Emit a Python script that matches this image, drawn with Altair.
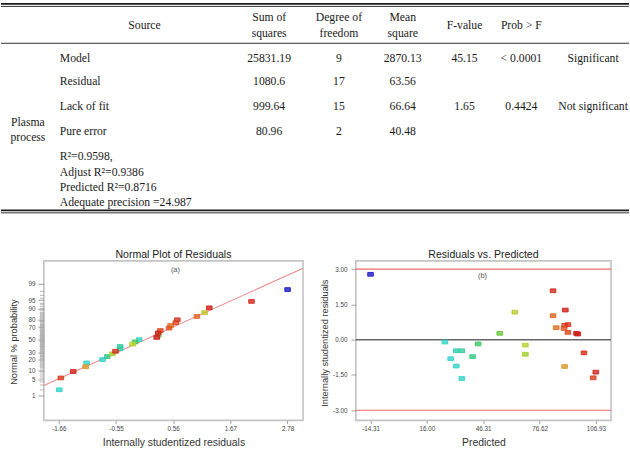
import altair as alt
import pandas as pd
from statistics import NormalDist

# ---------------- ANOVA summary of the plasma-process model ----------------
anova_sources = ["Model", "Residual", "Lack of fit", "Pure error"]
sum_of_squares = ["25831.19", "1080.6", "999.64", "80.96"]
degrees_of_freedom = ["9", "17", "15", "2"]
mean_square = ["2870.13", "63.56", "66.64", "40.48"]
f_value = ["45.15", "", "1.65", ""]
prob_f = ["< 0.0001", "", "0.4424", ""]
significance = ["Significant", "", "Not significant", ""]
fit_statistics = ["R²=0.9598,", "Adjust R²=0.9386", "Predicted R²=0.8716",
                  "Adequate precision =24.987"]
process_label = ["Plasma", "process"]
column_headers = [["Source"], ["Sum of", "squares"], ["Degree of", "freedom"],
                  ["Mean", "square"], ["F-value"], ["Prob > F"]]

# ---------------- residual diagnostics, one entry per run ----------------
predicted = [-14.31, 25.7, 31.8, 34.8, 28.8, 31.8, 34.8, 40.6, 43.6, 55.2,
             63.3, 69.0, 69.0, 83.9, 83.9, 85.6, 90.5, 90.1, 91.9, 89.8,
             91.9, 96.5, 97.2, 100.5, 90.1, 106.9, 105.5]
studentized = [2.78, -0.10, -0.47, -0.47, -0.81, -1.12, -1.65, -0.72, -0.18, 0.27,
               1.17, -0.23, -0.62, 2.08, 1.02, 0.51, 1.26, 0.61, 0.64, 0.48,
               0.31, 0.27, 0.24, -0.56, -1.14, -1.38, -1.62]

residual_ticks = [-1.66, -0.55, 0.56, 1.67, 2.78]
probability_ticks = [1, 5, 10, 20, 30, 50, 70, 80, 90, 95, 99]
minor_probability = list(range(1, 100))
predicted_ticks = [-14.31, 16.00, 46.31, 76.62, 106.93]
studentized_ticks = [-3.0, -1.5, 0.0, 1.5, 3.0]
limit_levels = [-3.0, 3.0]
fit_line_residual = [-1.95, 3.08]
fit_line_z = [-1.91, 2.975]

# point colour follows the (approximate) observed response
response_per_unit = 6.5
response_stops = [5, 22, 30, 42, 57, 68, 85, 92, 99]
response_colors = ["#1a1ac8", "#33d6d6", "#30ccaa", "#3cc860", "#66c83a",
                   "#bcd22e", "#e0902c", "#e05a22", "#d01a1a"]

SANS = "Liberation Sans"
SERIF = "Liberation Serif"
MINUS_FIX = "replace(format(datum.value, '.2f'), '\u2212', '-')"

# ======================= table =======================
TABLE_W, TABLE_H = 630, 215
col_x = [144, 269, 339, 403, 465, 522, 594]
label_x, group_x = 59, 27
header_single_y, header_double_y = 24, [16, 32]
body_y = [57, 81, 106, 131]
stats_y = [156, 172, 187, 202]
group_y = [122, 137]
thick_rules = [3.2, 210.3]
thin_rules = [5.7, 42.7, 212.8]

centered = []
for x, lines in zip(col_x, column_headers):
    ys = [header_single_y] if len(lines) == 1 else header_double_y
    centered += [{"x": x, "y": y, "text": t} for y, t in zip(ys, lines)]
value_cols = [sum_of_squares, degrees_of_freedom, mean_square, f_value, prob_f, significance]
for i, y in enumerate(body_y):
    for x, col in zip(col_x[1:], value_cols):
        if col[i]:
            centered.append({"x": x, "y": y, "text": col[i]})
centered += [{"x": group_x, "y": y, "text": t} for y, t in zip(group_y, process_label)]

left = [{"x": label_x, "y": y, "text": t} for y, t in zip(body_y, anova_sources)]
left += [{"x": label_x, "y": y, "text": t} for y, t in zip(stats_y, fit_statistics)]

tx = alt.X("x:Q", scale=alt.Scale(domain=[0, TABLE_W], nice=False, zero=False), axis=None)
ty = alt.Y("y:Q", scale=alt.Scale(domain=[0, TABLE_H], reverse=True, nice=False, zero=False),
           axis=None)

text_style = dict(font=SERIF, fontSize=11.7, color="#1a1a1a", baseline="middle")
table = alt.layer(
    alt.Chart(pd.DataFrame({"y": thick_rules})).mark_rule(color="#1a1a1a", strokeWidth=1.8)
    .encode(y=ty),
    alt.Chart(pd.DataFrame({"y": thin_rules})).mark_rule(color="#333333", strokeWidth=1.0)
    .encode(y=ty),
    alt.Chart(pd.DataFrame(centered)).mark_text(align="center", **text_style)
    .encode(x=tx, y=ty, text="text:N"),
    alt.Chart(pd.DataFrame(left)).mark_text(align="left", **text_style)
    .encode(x=tx, y=ty, text="text:N"),
).properties(width=TABLE_W, height=TABLE_H, view=alt.ViewBackground(strokeOpacity=0))

# ======================= shared plot styling =======================
PLOT_H = 160
frame = alt.ViewBackground(stroke="#c4c4c4", strokeWidth=1.6)
RECT = "M-1.5,-1H1.5V1H-1.5Z"
response_scale = alt.Scale(domain=response_stops, range=response_colors, type="linear",
                           clamp=True, interpolate="rgb")

axis_common = dict(grid=False, domain=False, tickWidth=0.8,
                   labelFont=SANS, labelFontSize=6.3, labelColor="#444444",
                   labelOverlap=False, labelFlush=False,
                   titleFont=SANS, titleFontWeight="normal", titleColor="#333333",
                   titleBaseline="middle", titleAlign="center")


def bottom_axis(title, values):
    return alt.Axis(values=values, labelExpr=MINUS_FIX, title=title, tickSize=3,
                    tickColor="#8a8a8a", labelPadding=2, titleFontSize=10.4, titleY=22,
                    **axis_common)


def plot_title(text):
    return alt.TitleParams(text, font=SANS, fontSize=10.6, fontWeight="normal",
                           color="#222222", offset=0, anchor="middle")


def points(base, x, y):
    return base.mark_point(shape=RECT, filled=True, size=14, fillOpacity=0.8,
                           strokeWidth=0.9, strokeOpacity=1).encode(
        x=x, y=y,
        fill=alt.Fill("response:Q", scale=response_scale, legend=None),
        stroke=alt.Stroke("response:Q", scale=response_scale, legend=None),
    )


def tag(label, x, y):
    return alt.Chart(pd.DataFrame({"t": [label]})).mark_text(
        font=SANS, fontSize=7.5, color="#555555").encode(
        text="t:N", x=alt.value(x), y=alt.value(y))


diag = pd.DataFrame({"predicted": predicted, "studentized": studentized})
n_runs = len(diag)
base = alt.Chart(diag).transform_calculate(
    response=f"datum.predicted + {response_per_unit} * datum.studentized")

# ======================= (a) normal probability plot =======================
WA = 260
# probability axis: a tick at every whole percent, labels only on the major ones
tick_z = [NormalDist().inv_cdf(p / 100) for p in minor_probability]
pct_of_tick = "round(cumulativeNormal(datum.value) * 100)"
is_major = f"indexof({probability_ticks}, {pct_of_tick}) >= 0"

xa = alt.X("studentized:Q", scale=alt.Scale(domain=[-1.95, 3.08], nice=False, zero=False),
           axis=bottom_axis("Internally studentized residuals", residual_ticks))
ya = alt.Y("z:Q", scale=alt.Scale(domain=[-3.36, 3.28], nice=False, zero=False),
           axis=alt.Axis(values=tick_z, labelExpr=f"{is_major} ? {pct_of_tick} : ''",
                         title="Normal % probability",
                         tickSize={"condition": {"test": is_major, "value": 6}, "value": 4.5},
                         tickColor={"condition": {"test": is_major, "value": "#8a8a8a"},
                                    "value": "#a4a4a4"},
                         labelPadding=3, titleFontSize=9.3, titleAngle=270,
                         titleX=-30, titleY=81, **axis_common))

ranked = base.transform_window(
    rank="row_number()", sort=[alt.SortField("studentized", order="ascending")]
).transform_calculate(z=f"quantileNormal((datum.rank - 0.5) / {n_runs})")

line_a = alt.Chart(pd.DataFrame({"studentized": fit_line_residual, "z": fit_line_z})).mark_line(
    color="#f08a8a", strokeWidth=1.1, clip=True).encode(x=xa, y=ya)

chart_a = alt.layer(
    line_a, points(ranked, xa, ya), tag("(a)", 132, 9)
).properties(width=WA, height=PLOT_H, title=plot_title("Normal Plot of Residuals"), view=frame)

# ======================= (b) residuals vs predicted =======================
WB = 256
xb = alt.X("predicted:Q", scale=alt.Scale(domain=[-22.2, 115.1], nice=False, zero=False),
           axis=bottom_axis("Predicted", predicted_ticks))
yb = alt.Y("studentized:Q", scale=alt.Scale(domain=[-3.43, 3.35], nice=False, zero=False),
           axis=alt.Axis(values=studentized_ticks, labelExpr=MINUS_FIX,
                         title="Internally studentized residuals", tickSize=5,
                         tickColor="#8a8a8a", labelPadding=4,
                         titleFontSize=9.3, titleAngle=270, titleX=-31, titleY=82,
                         **axis_common))

limits_b = alt.Chart(pd.DataFrame({"studentized": limit_levels})).mark_rule(
    color="#f06a6a", strokeWidth=1.1).encode(y=yb)
zero_b = alt.Chart(pd.DataFrame({"studentized": [0.0]})).mark_rule(
    color="#666666", strokeWidth=1.6).encode(y=yb)

chart_b = alt.layer(
    limits_b, zero_b, points(base, xb, yb), tag("(b)", 127, 15)
).properties(width=WB, height=PLOT_H, title=plot_title("Residuals vs. Predicted"), view=frame)


def spacer(w):
    return alt.Chart(pd.DataFrame({"v": [0]})).mark_point(opacity=0).properties(
        width=w, height=PLOT_H, view=alt.ViewBackground(strokeOpacity=0))


bottom = alt.hconcat(spacer(43), chart_a, spacer(53), chart_b, spacing=0, bounds="flush")

chart = alt.vconcat(table, bottom, spacing=46, bounds="flush").properties(
    padding=0, background="white"
).configure(font=SANS).configure_view(stroke=None)

chart.save("out.html", embed_options={"renderer": "svg", "actions": False})
